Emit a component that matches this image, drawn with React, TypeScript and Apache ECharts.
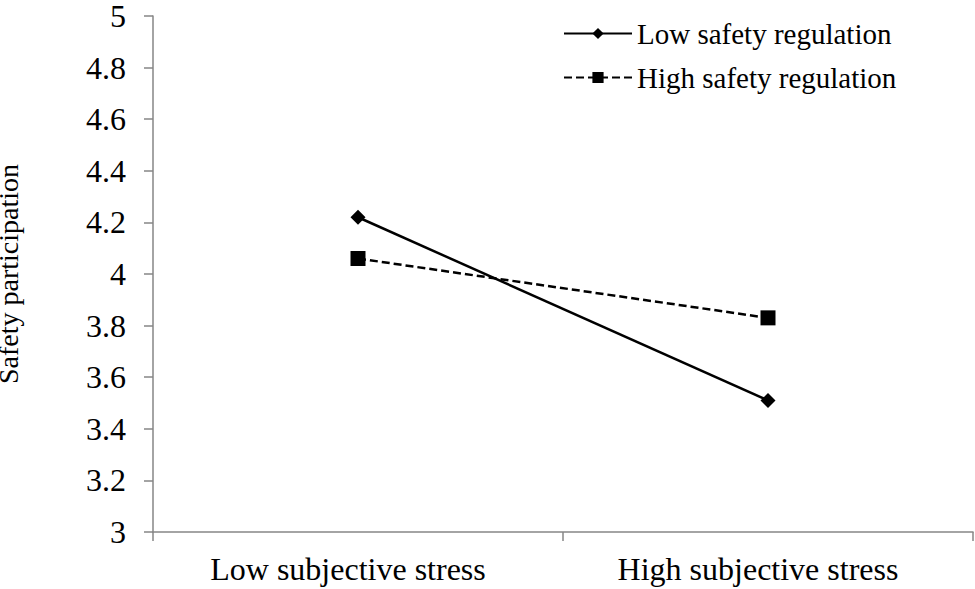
import React, { useEffect, useRef } from "react";
import * as echarts from "echarts";

const categories = ["Low subjective stress", "High subjective stress"];
const lowSafetyRegulation = [4.22, 3.51];
const highSafetyRegulation = [4.06, 3.83];
const seriesNames = ["Low safety regulation", "High safety regulation"];
const yAxisTitle = "Safety participation";

const FONT = "Liberation Serif";

export default function App() {
  const ref = useRef<HTMLDivElement>(null);
  useEffect(() => {
    document.body.style.margin = "0";
    const chart = echarts.init(ref.current!, null, { renderer: "svg" });
    chart.setOption({
      animation: false,
      backgroundColor: "#ffffff",
      textStyle: { fontFamily: FONT, color: "#000" },
      grid: { left: 153, right: 2, top: 16, bottom: 57, containLabel: false, outerBoundsMode: "none" },
      legend: {
        orient: "vertical",
        left: 558,
        top: 14,
        itemWidth: 68,
        itemHeight: 14,
        itemGap: 15,
        textStyle: { fontFamily: FONT, fontSize: 29, color: "#000" },
        data: [
          { name: seriesNames[0] },
          { name: seriesNames[1] },
        ],
      },
      xAxis: {
        type: "category",
        data: categories,
        boundaryGap: true,
        axisLine: { lineStyle: { color: "#868686", width: 1.5 } },
        axisTick: { show: true, length: 9, lineStyle: { color: "#868686", width: 1.5 } },
        axisLabel: {
          fontFamily: FONT,
          fontSize: 32,
          color: "#000",
          margin: 21,
          padding: [0, 20, 0, 0],
        },
        splitLine: { show: false },
      },
      yAxis: {
        type: "value",
        min: 3,
        max: 5,
        interval: 0.2,
        name: yAxisTitle,
        nameLocation: "middle",
        nameGap: 131,
        nameTextStyle: { fontFamily: FONT, fontSize: 28, color: "#000", lineHeight: 28 },
        axisLine: { show: true, lineStyle: { color: "#868686", width: 1.5 } },
        axisTick: { show: true, length: 9, lineStyle: { color: "#868686", width: 1.5 } },
        axisLabel: { fontFamily: FONT, fontSize: 32, color: "#000", margin: 27, lineHeight: 28 },
        splitLine: { show: false },
      },
      series: [
        {
          name: seriesNames[0],
          type: "line",
          data: lowSafetyRegulation,
          symbol: "diamond",
          symbolSize: 15,
          itemStyle: { color: "#000" },
          lineStyle: { color: "#000", width: 2.5, type: "solid" },
        },
        {
          name: seriesNames[1],
          type: "line",
          data: highSafetyRegulation,
          symbol: "rect",
          symbolSize: 15,
          itemStyle: { color: "#000" },
          lineStyle: { color: "#000", width: 2.5, type: [8, 4] },
        },
      ],
    });
    return () => chart.dispose();
  }, []);
  return <div ref={ref} style={{ width: 975, height: 589 }} />;
}
